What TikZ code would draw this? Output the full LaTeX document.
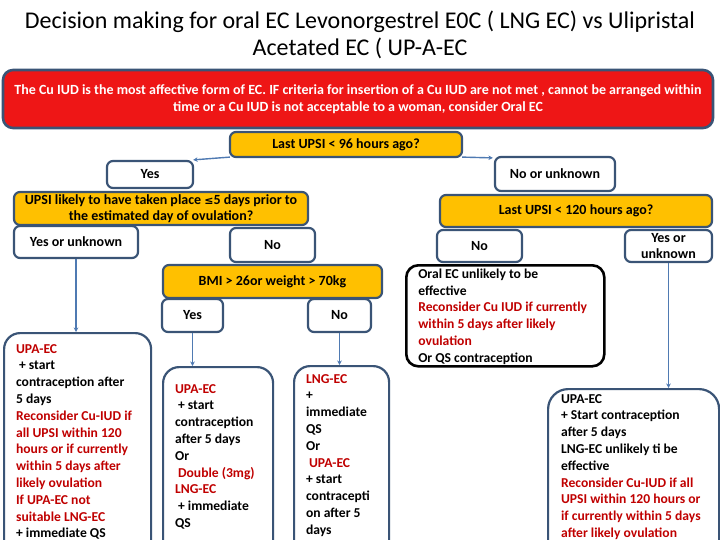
\documentclass[tikz,border=0pt]{standalone}
\usepackage{fontspec}
\setmainfont{Carlito}
\newfontfamily\dvs{DejaVu Sans}
\usetikzlibrary{arrows.meta}
\definecolor{bord}{RGB}{58,84,118}
\definecolor{amber}{RGB}{255,192,0}
\definecolor{redbox}{RGB}{238,22,22}
\definecolor{dred}{RGB}{192,0,0}
\definecolor{connc}{RGB}{79,122,178}
\begin{document}
\begin{tikzpicture}[x=1pt,y=-1pt,
  base/.style={draw=bord, line width=2.2pt, rounded corners=6pt, inner sep=0pt,
    font=\bfseries\fontsize{14}{16}\selectfont, align=center},
  wbox/.style={base, fill=white},
  qbox/.style={base, fill=amber},
  tall/.style={draw=bord, line width=2.2pt, rounded corners=16pt, fill=white,
    anchor=north west, align=flush left, inner ysep=0pt,
    font=\bfseries\fontsize{13.6}{16.8}\selectfont},
  link/.style={draw=connc, line width=1.4pt, -{Stealth[length=4.5pt,width=4.5pt]}}
]
\useasboundingbox (0,0) rectangle (720,540);

\node[font=\fontsize{24}{27}\selectfont, align=center] (title) at (360,35)
  {Decision making for oral EC Levonorgestrel E0C ( LNG EC) vs Ulipristal\\Acetated EC ( UP-A-EC};

\node[draw=bord, line width=2.6pt, rounded corners=10pt, fill=redbox, text=white,
  minimum width=710, minimum height=58, inner sep=0pt, align=center,
  font=\bfseries\fontsize{14}{17}\selectfont] (cu) at (358,99)
  {The Cu IUD is the most affective form of EC. IF criteria for insertion of a Cu IUD are not met , cannot be arranged within\\time or a Cu IUD is not acceptable to a woman, consider Oral EC};

\node[qbox, minimum width=232, minimum height=25] (q96) at (346,144.5) {Last UPSI < 96 hours ago?};
\node[wbox, minimum width=86, minimum height=27] (yes1) at (150,174.5) {Yes};
\node[wbox, minimum width=120, minimum height=34] (nounk) at (555,174) {No or unknown};
\node[qbox, minimum width=294, minimum height=33] (qupsi) at (161,208.5)
  {UPSI likely to have taken place {\dvs\fontsize{11}{12}\selectfont ≤}5 days prior to\\the estimated day of ovulation?};
\node[qbox, minimum width=272, minimum height=32] (q120) at (576,211) {Last UPSI < 120 hours ago?};
\node[wbox, minimum width=124, minimum height=32] (yesunk1) at (76,242) {Yes or unknown};
\node[wbox, minimum width=85, minimum height=34] (no1) at (272.5,245) {No};
\node[wbox, minimum width=85, minimum height=32] (no2) at (479.5,246) {No};
\node[wbox, minimum width=87, minimum height=32] (yesunk2) at (668.5,246) {Yes or\\unknown};
\node[qbox, minimum width=219, minimum height=33] (bmi) at (272.5,281.5) {BMI > 26or weight > 70kg};
\node[wbox, minimum width=61, minimum height=33] (yes2) at (192.5,315.5) {Yes};
\node[wbox, minimum width=63, minimum height=33] (no3) at (339.5,315.5) {No};

\node[tall, draw=black, line width=2.6pt, rounded corners=12pt, inner xsep=12pt,
  text width=174pt, text height=13pt, text depth=88pt] (oral) at (405,264)
  {Oral EC unlikely to be\\effective\\
   \textcolor{dred}{Reconsider Cu IUD if currently}\\
   \textcolor{dred}{within 5 days after likely}\\
   \textcolor{dred}{ovulation}\\
   Or QS contraception};

\node[tall, inner xsep=12pt, text width=123pt, text height=20pt, text depth=210pt] (lbox) at (3,332)
  {\textcolor{dred}{UPA-EC}\\
   \hspace*{3pt}+ start\\
   contraception after\\
   5 days\\
   \textcolor{dred}{Reconsider Cu-IUD if}\\
   \textcolor{dred}{all UPSI within 120}\\
   \textcolor{dred}{hours or if currently}\\
   \textcolor{dred}{within 5 days after}\\
   \textcolor{dred}{likely ovulation}\\
   \textcolor{dred}{If UPA-EC not}\\
   \textcolor{dred}{suitable LNG-EC}\\
   + immediate QS};

\node[tall, inner xsep=12pt, text width=86pt, text height=26pt, text depth=200pt] (upa) at (162,366)
  {\textcolor{dred}{UPA-EC}\\
   \hspace*{3pt}+ start\\
   contraception\\
   after 5 days\\
   Or\\
   \hspace*{3pt}\textcolor{dred}{Double (3mg)}\\
   \textcolor{dred}{LNG-EC}\\
   \hspace*{3pt}+ immediate\\
   QS};

\node[tall, inner xsep=12pt, text width=71pt, text height=17pt, text depth=200pt] (lng) at (293,365)
  {\textcolor{dred}{LNG-EC}\\
   +\\
   immediate\\
   QS\\
   Or\\
   \hspace*{3pt}\textcolor{dred}{UPA-EC}\\
   + start\\
   contracepti\\
   on after 5\\
   days};

\node[tall, rounded corners=20pt, inner xsep=13pt, text width=145pt, text height=14pt, text depth=200pt] (rbox) at (547,388)
  {UPA-EC\\
   + Start contraception\\
   after 5 days\\
   LNG-EC unlikely ti be\\
   effective\\
   \textcolor{dred}{Reconsider Cu-IUD if all}\\
   \textcolor{dred}{UPSI within 120 hours or}\\
   \textcolor{dred}{if currently within 5 days}\\
   \textcolor{dred}{after likely ovulation}};

\draw[link] ([xshift=1pt,yshift=1pt]q96.south west) -- ([xshift=-1pt]yes1.north east);
\draw[link] ([xshift=-1pt,yshift=1pt]q96.south east) -- ([xshift=-1pt,yshift=-2pt]nounk.north west);
\draw[link] (yesunk1.south) -- (yesunk1.south |- lbox.north);
\draw[link] (yes2.south) -- (yes2.south |- upa.north);
\draw[link] (no3.south) -- (no3.south |- lng.north);
\draw[link] (yesunk2.south) -- (yesunk2.south |- rbox.north);
\end{tikzpicture}
\end{document}
